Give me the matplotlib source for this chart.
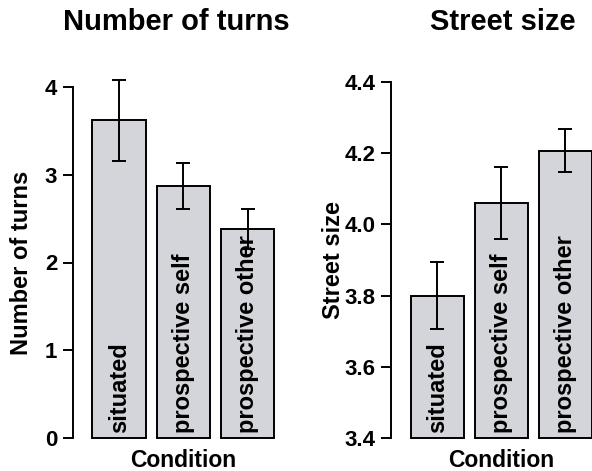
import numpy as np
import matplotlib
matplotlib.use("Agg")
import matplotlib.pyplot as plt

conditions = ["situated", "prospective self", "prospective other"]
turns_mean = [3.62, 2.87, 2.38]
turns_err = [0.46, 0.26, 0.23]
size_mean = [3.80, 4.06, 4.207]
size_err = [0.094, 0.10, 0.059]

plt.rcParams['font.family'] = ['Liberation Sans', 'DejaVu Sans']
plt.rcParams['font.weight'] = 'bold'

W, H = 592, 471
fig = plt.figure(figsize=(W / 100, H / 100), dpi=100)

fill = "#d4d5da"
centers = np.array([0.7, 1.9, 3.1])


def panel(rect, means, errs, ylim, ticks, ticklabels, title, ylabel, xlim, title_x, ylab_x):
    ax = fig.add_axes([rect[0] / W, rect[1] / H, rect[2] / W, rect[3] / H])
    base = ylim[0]
    ax.bar(centers, np.array(means) - base, bottom=base, width=1.0, color=fill,
           edgecolor="black", linewidth=1.4, clip_on=False)
    ax.errorbar(centers, means, yerr=errs, fmt="none", ecolor="black",
                elinewidth=1.4, capsize=5, capthick=1.4, clip_on=False)
    for c, lab in zip(centers, conditions):
        ax.text(c, base + (ylim[1] - ylim[0]) * 0.016, lab, rotation=90,
                ha="center", va="bottom", fontsize=17, fontweight="bold")
    ax.set_xlim(*xlim)
    ax.set_ylim(*ylim)
    ax.set_yticks(ticks)
    ax.set_yticklabels(ticklabels, fontsize=16, fontweight="bold")
    ax.set_xticks([])
    for s in ["top", "right", "bottom"]:
        ax.spines[s].set_visible(False)
    ax.spines["left"].set_bounds(ticks[0], ticks[-1])
    ax.spines["left"].set_linewidth(1.4)
    ax.tick_params(axis="y", length=7, width=1.4, pad=4)
    ax.set_ylabel(ylabel, fontsize=17, fontweight="bold")
    ax.yaxis.set_label_coords(-(rect[0] - ylab_x) / rect[2], 0.5)
    ax.set_xlabel("Condition", fontsize=16.5, fontweight="bold")
    ax.xaxis.set_label_coords((1.9 - xlim[0]) / (xlim[1] - xlim[0]),
                              (H - 449 - rect[1]) / rect[3])
    fig.text(title_x / W, 1 - 22 / H, title, ha="center", va="center",
             fontsize=21, fontweight="bold")
    return ax


ax1 = panel((72.5, 32.7, 209, 351.6), turns_mean, turns_err, (0, 4),
            [0, 1, 2, 3, 4], ["0", "1", "2", "3", "4"],
            "Number of turns", "Number of turns", (-0.174, 3.736), 176, 33)
ax2 = panel((390.7, 32.7, 201.3, 356.6), size_mean, size_err, (3.4, 4.4),
            [3.4, 3.6, 3.8, 4.0, 4.2, 4.4], ["3.4", "3.6", "3.8", "4.0", "4.2", "4.4"],
            "Street size", "Street size", (-0.175, 3.6), 503, 345)

fig.savefig("out.png", dpi=100)
